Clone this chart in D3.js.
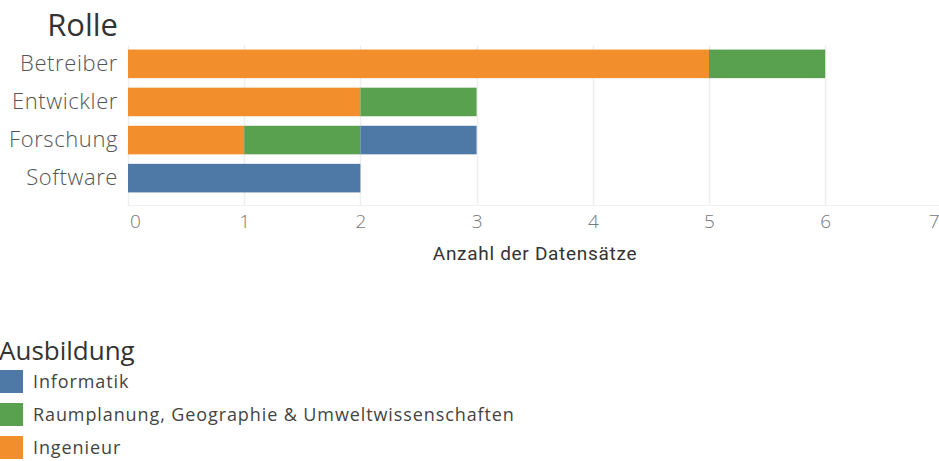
<!DOCTYPE html>
<html>
<head>
<meta charset="utf-8">
<script src="https://cdn.jsdelivr.net/npm/d3@7"></script>
<style>
  body { margin: 0; background: #fff; }
  svg { display: block; }
</style>
</head>
<body>
<figure id="rolle" style="margin:0"></figure>
<script>
// data
var rollen = ["Betreiber", "Entwickler", "Forschung", "Software"];
var ausbildung = ["Ingenieur", "Raumplanung, Geographie & Umweltwissenschaften", "Informatik"];
var ingenieur = [5, 2, 1, 0];
var raumplanung = [1, 1, 1, 0];
var informatik = [0, 0, 1, 2];
var legendOrder = ["Informatik", "Raumplanung, Geographie & Umweltwissenschaften", "Ingenieur"];
var xTicks = [0, 1, 2, 3, 4, 5, 6, 7];
var colors = ["#f28e2b", "#59a14f", "#4e79a7"];

var W = 939, H = 461;
var margin = {top: 45, left: 128};
var plotBottom = 197;

var svg = d3.select("figure#rolle")
  .append("svg")
  .attr("width", W)
  .attr("height", H);

var x = d3.scaleLinear()
  .domain([0, 7])
  .range([margin.left, margin.left + 7 * 116.2]);

var y = d3.scaleBand()
  .domain(rollen)
  .range([margin.top, plotBottom])
  .paddingInner(0.25)
  .paddingOuter(0.12);

var color = d3.scaleOrdinal().domain(ausbildung).range(colors);

// gridlines
svg.append("g")
  .selectAll("line")
  .data(xTicks)
  .enter()
  .append("line")
  .attr("x1", function(d) { return Math.round(x(d)) + 0.5; })
  .attr("x2", function(d) { return Math.round(x(d)) + 0.5; })
  .attr("y1", margin.top)
  .attr("y2", plotBottom + 8)
  .attr("stroke", "#eeeeee")
  .attr("stroke-width", 1.5);

svg.append("line")
  .attr("x1", margin.left).attr("x2", W)
  .attr("y1", plotBottom + 8.5).attr("y2", plotBottom + 8.5)
  .attr("stroke", "#f0f0f0");

// stacked data
var table = rollen.map(function(r, i) {
  return {rolle: r, "Ingenieur": ingenieur[i],
    "Raumplanung, Geographie & Umweltwissenschaften": raumplanung[i],
    "Informatik": informatik[i]};
});
var stacked = d3.stack().keys(ausbildung)(table);

svg.append("g")
  .selectAll("g")
  .data(stacked)
  .enter()
  .append("g")
  .attr("fill", function(d) { return color(d.key); })
  .selectAll("rect")
  .data(function(d) { return d; })
  .enter()
  .append("rect")
  .attr("x", function(d) { return x(d[0]); })
  .attr("y", function(d) { return y(d.data.rolle); })
  .attr("width", function(d) { return x(d[1]) - x(d[0]); })
  .attr("height", y.bandwidth());

// y axis labels
svg.append("g")
  .attr("transform", "translate(" + (margin.left - 10) + ",0)")
  .call(d3.axisLeft(y).tickSize(0).tickPadding(0))
  .call(function(g) { g.select(".domain").remove(); })
  .selectAll("text")
  .attr("font-family", "Open Sans")
  .attr("font-weight", 300)
  .attr("font-size", 22)
  .attr("letter-spacing", 0.6)
  .attr("fill", "#555");

svg.append("text")
  .attr("x", margin.left - 10)
  .attr("y", 36)
  .attr("text-anchor", "end")
  .attr("font-family", "Open Sans")
  .attr("font-size", 31)
  .attr("fill", "#333")
  .text("Rolle");

// x axis
var xAxis = svg.append("g")
  .attr("transform", "translate(0," + (plotBottom + 8) + ")")
  .call(d3.axisBottom(x).tickValues(xTicks).tickFormat(d3.format("d")).tickSize(0).tickPadding(10))
  .call(function(g) { g.select(".domain").remove(); });
xAxis.selectAll("text")
  .attr("font-family", "Open Sans")
  .attr("font-weight", 300)
  .attr("font-size", 19)
  .attr("fill", "#777")
  .attr("text-anchor", function(d) { return d === 7 ? "end" : "middle"; })
  .attr("dx", function(d) { return d === 0 ? 7 : (d === 7 ? 939 - x(7) : 0); });

svg.append("text")
  .attr("x", 535)
  .attr("y", 260)
  .attr("text-anchor", "middle")
  .attr("font-family", "Roboto")
  .attr("font-size", 19)
  .attr("letter-spacing", 0.7)
  .attr("fill", "#333")
  .text("Anzahl der Datensätze");

// legend
svg.append("text")
  .attr("x", -1)
  .attr("y", 360)
  .attr("font-family", "Open Sans")
  .attr("font-size", 26)
  .attr("fill", "#333")
  .text("Ausbildung");

var leg = svg.append("g")
  .selectAll("g")
  .data(legendOrder)
  .enter()
  .append("g")
  .attr("transform", function(d, i) { return "translate(0," + (370 + i * 33) + ")"; });
leg.append("rect")
  .attr("width", 23)
  .attr("height", 23)
  .attr("fill", function(d) { return color(d); });
leg.append("text")
  .attr("x", 33)
  .attr("y", 18)
  .attr("font-family", "Open Sans")
  .attr("font-size", 18)
  .attr("letter-spacing", 0.9)
  .attr("fill", "#444")
  .text(function(d) { return d; });
</script>
</body>
</html>
